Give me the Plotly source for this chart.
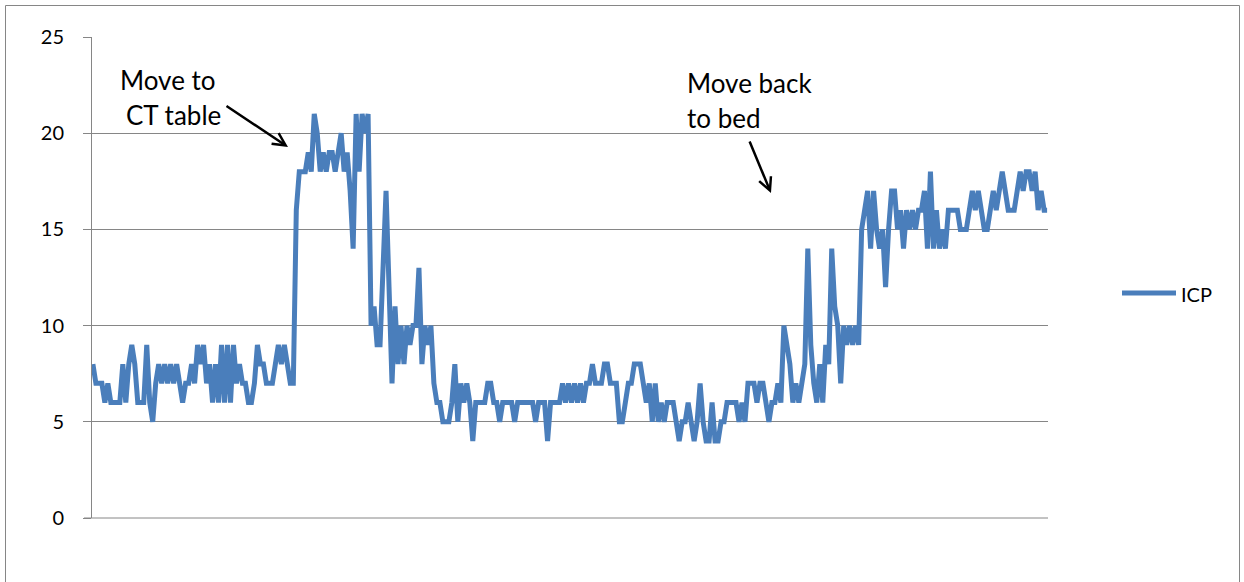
import plotly.graph_objects as go

# ICP readings (mmHg), in time order
icp_before_move = [8,7,7,7,6,7,6,6,6,6, 8,6,8,9,8,6,6,6,9,6,
                   5,7,8,7,8,7,8,7,8,7, 6,7,7,8,7,9,8,9,7,8,
                   6,8,6,9,6,9,6,9,7,8, 7,7,6,6,7,9,8,8,7,7,
                   7,8,9,8,9,8,7,7]
icp_on_ct_table = [16,18,18,18,19,18,21,20,18,19,
                   18,19,19,18,19,20,18,19,17,14,
                   21,18,21,20,21]
icp_return = [10,11,9,9,14,17,12,7,11,8, 10,8,10,9,10,10,13,8,10,9,
              10,7,6,6,5,5,5]
icp_low = [6,8,5,7,6,7,6,4,6,6, 6,6,7,7,6,6,5,6,6,6,
           6,5,6,6,6,6,6,6,5,6, 6,6,4,6,6,6,6,7,6,7,
           6,7,6,7,6,7,7,8,7,7, 7,8,8,7,7,7,5,5,6,7,
           7,8,8,8,7,6,7,5,7,5, 6,5,6,6,6,5,4,5,5,6,
           5,4,5,7,5,4,4,6,4,4, 5,5,6,6,6,6,5,6,5,7,
           7,7,6,7,7,6,5,6,6,7]
icp_move_back = [6,10,9,8,6,7,6,7,8,14, 9,7,6,8,6,9,8,14,11,10,
                 7,10,9,10,9,10,9]
icp_after = [15,16,17,14,17,15,14,15,12,15, 17,17,15,16,14,16,15,16,15,16,
             16,17,14,18,14,16,14,15,14,16, 16,16,16,15,15,15,16,17,16,17,
             16,15,15,16,17,16,17,18,17,16, 16,16,17,18,17,18,18,17,18,16,
             17,16,16]

icp = icp_before_move + icp_on_ct_table + icp_return + icp_low + icp_move_back + icp_after
samples = list(range(len(icp)))

y_ticks = [0, 5, 10, 15, 20, 25]
series_name = "ICP"
notes = [("Move to", "CT table"), ("Move back", "to bed")]

W, H = 1244, 582
L, R, T, B = 92, 1048, 37, 518   # page pixel positions of the plot area
def px(x):
    return (x - L) / (R - L)
def py(y):
    return (B - y) / (B - T)

BLUE = "#4A7EBB"
GRID = "#868686"
FONT = "Lato, 'Open Sans', sans-serif"

fig = go.Figure()
fig.add_trace(go.Scatter(x=samples, y=icp, mode="lines", name=series_name,
                         line=dict(color=BLUE, width=5), showlegend=False))

fig.update_layout(
    width=W, height=H,
    margin=dict(l=L, r=W - R, t=T, b=H - B, pad=0),
    paper_bgcolor="white", plot_bgcolor="white",
    font=dict(family=FONT, color="black", size=20),
    xaxis=dict(range=[-0.3, len(icp) - 0.7], showticklabels=False, showgrid=False,
               zeroline=False, showline=False, ticks=""),
    yaxis=dict(range=[0, 25], tickvals=y_ticks, showgrid=True, gridcolor=GRID, gridwidth=1,
               zeroline=False, showline=True, linecolor=GRID, linewidth=1,
               ticks="outside", ticklen=8, tickcolor=GRID, ticklabelstandoff=15,
               tickfont=dict(size=20, family=FONT)),
)

annotations = []
annotations.append(dict(text=notes[0][0], x=px(168), y=py(80), xref="paper", yref="paper",
                        showarrow=False, font=dict(size=26), xanchor="center", yanchor="middle"))
annotations.append(dict(text=notes[0][1], x=px(173), y=py(115), xref="paper", yref="paper",
                        showarrow=False, font=dict(size=26), xanchor="center", yanchor="middle"))
annotations.append(dict(text=notes[1][0], x=px(685), y=py(83), xref="paper", yref="paper",
                        showarrow=False, font=dict(size=26), xanchor="left", yanchor="middle"))
annotations.append(dict(text=notes[1][1], x=px(685), y=py(118), xref="paper", yref="paper",
                        showarrow=False, font=dict(size=26), xanchor="left", yanchor="middle"))
annotations.append(dict(text="", x=px(288), y=py(147), xref="paper", yref="paper",
                        showarrow=True, ax=-63, ay=-42, arrowhead=5, arrowsize=1,
                        arrowwidth=2.5, arrowcolor="black", standoff=0))
annotations.append(dict(text="", x=px(771), y=py(193), xref="paper", yref="paper",
                        showarrow=True, ax=-22, ay=-53, arrowhead=5, arrowsize=1,
                        arrowwidth=2.5, arrowcolor="black", standoff=0))
annotations.append(dict(text=series_name, x=px(1179), y=py(294), xref="paper", yref="paper",
                        showarrow=False, font=dict(size=20), xanchor="left", yanchor="middle"))
fig.update_layout(annotations=annotations)

fig.add_shape(type="line", xref="paper", yref="paper", x0=px(1122), x1=px(1176),
              y0=py(293), y1=py(293), line=dict(color=BLUE, width=5))
fig.add_shape(type="rect", xref="paper", yref="paper", x0=px(5.5), x1=px(1239.5),
              y0=py(5.5), y1=py(600), line=dict(color=GRID, width=1), layer="below")
fig.add_shape(type="line", xref="paper", yref="paper", x0=px(84), x1=1,
              y0=0, y1=0, line=dict(color=GRID, width=1))

fig.write_html("out.html", config={"displayModeBar": False},
               post_script="document.body.style.margin='0';document.body.style.overflow='hidden';")
